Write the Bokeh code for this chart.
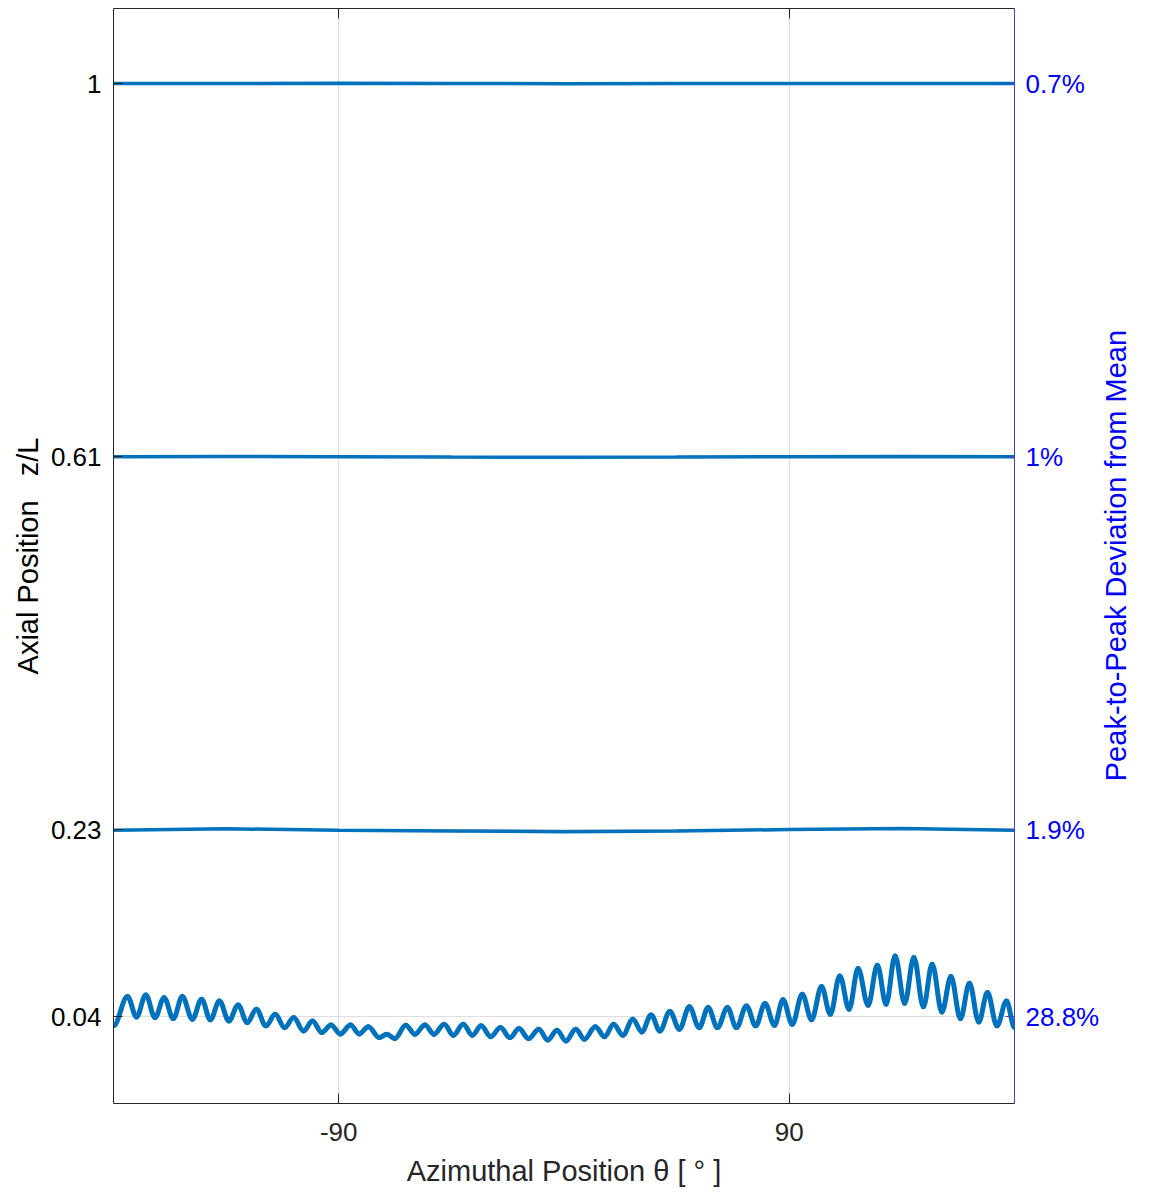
import math
from bokeh.plotting import figure
from bokeh.models import LinearAxis, FixedTicker, Range1d, CustomLabelingPolicy
from bokeh.embed import file_html
from bokeh.resources import INLINE

# ---------------- data ----------------
z_ticks = [0.0385, 0.2308, 0.6154, 1.0]
z_labels = ["0.04", "0.23", "0.61", "1"]
dev_labels = ["28.8%", "1.9%", "1%", "0.7%"]

x_ticks = [-90, 90]
x_labels = ["-90", "90"]

theta_flat = [-180, -135, -90, -45, 0, 45, 90, 135, 180]
z_trace_100 = [1.0000, 1.0001, 1.0002, 1.0000, 0.9998, 0.9999, 1.0001, 1.0001, 1.0000]
z_trace_061 = [0.6155, 0.6157, 0.6155, 0.6150, 0.6148, 0.6150, 0.6155, 0.6157, 0.6155]
z_trace_023 = [0.2305, 0.2320, 0.2306, 0.2298, 0.2290, 0.2298, 0.2312, 0.2324, 0.2305]

theta_bottom = [
    -180.0, -174.4, -170.8, -167.1, -163.4, -159.8, -156.1, -152.5, -148.5, -144.8,
    -141.3, -137.7, -133.9, -130.2, -126.6, -122.9, -119.1, -115.4, -111.6, -108.0,
    -104.1, -100.5, -96.8, -93.1, -89.4, -85.3, -81.8, -78.2, -73.8, -70.8,
    -67.6, -63.2, -59.6, -55.6, -51.9, -47.9, -44.2, -40.3, -36.6, -33.1,
    -29.3, -25.4, -21.6, -18.0, -14.1, -10.1, -6.5, -2.8, 0.8, 4.7,
    8.2, 12.5, 16.2, 19.8, 23.5, 27.5, 31.1, 34.8, 38.3, 42.3,
    46.1, 50.1, 54.0, 57.6, 61.3, 65.3, 68.9, 72.9, 76.6, 80.3,
    84.1, 87.5, 91.2, 95.2, 98.9, 102.9, 106.4, 110.2, 113.9, 117.5,
    121.5, 125.2, 128.7, 132.3, 136.1, 139.8, 143.6, 147.1, 151.0, 154.6,
    158.4, 162.0, 165.7, 169.2, 173.0, 176.8, 180.0,
]
z_bottom = [
    0.0289, 0.0591, 0.0381, 0.0608, 0.0374, 0.0580, 0.0364, 0.0591, 0.0358, 0.0564,
    0.0351, 0.0546, 0.0340, 0.0505, 0.0323, 0.0461, 0.0289, 0.0409, 0.0271, 0.0374,
    0.0237, 0.0340, 0.0220, 0.0299, 0.0206, 0.0299, 0.0206, 0.0281, 0.0168, 0.0203,
    0.0158, 0.0296, 0.0203, 0.0299, 0.0203, 0.0306, 0.0193, 0.0306, 0.0193, 0.0289,
    0.0178, 0.0271, 0.0168, 0.0261, 0.0158, 0.0255, 0.0144, 0.0244, 0.0134, 0.0255,
    0.0152, 0.0281, 0.0178, 0.0306, 0.0193, 0.0358, 0.0227, 0.0402, 0.0237, 0.0436,
    0.0255, 0.0485, 0.0271, 0.0477, 0.0271, 0.0477, 0.0271, 0.0495, 0.0289, 0.0519,
    0.0296, 0.0557, 0.0306, 0.0615, 0.0351, 0.0694, 0.0409, 0.0804, 0.0461, 0.0879,
    0.0502, 0.0914, 0.0512, 0.1010, 0.0523, 0.0993, 0.0485, 0.0925, 0.0433, 0.0797,
    0.0364, 0.0729, 0.0330, 0.0632, 0.0289, 0.0546, 0.0271,
]

# ---------------- styling ----------------
LINE_COLOR = "#0072BD"
AXIS_COLOR = "#262626"
RIGHT_COLOR = "#0000FF"
RIGHT_LINE = "#4040cc"
FONT = "Liberation Sans"
TICK_SIZE = "26px"
LABEL_SIZE = "29px"

p = figure(
    width=1151, height=1192,
    x_range=Range1d(-180, 180), y_range=Range1d(-0.0511, 1.0773),
    output_backend="svg", toolbar_location=None,
    min_border_left=113, min_border_right=137, min_border_top=8, min_border_bottom=89,
)
p.outline_line_color = None
p.background_fill_color = "white"
p.border_fill_color = "white"

p.xgrid.ticker = FixedTicker(ticks=x_ticks)
p.ygrid.ticker = FixedTicker(ticks=z_ticks)
for g in (p.xgrid, p.ygrid):
    g.grid_line_color = "#dedede"
    g.grid_line_width = 1

xa = p.xaxis[0]
xa.ticker = FixedTicker(ticks=x_ticks)
xa.major_label_overrides = {t: s for t, s in zip(x_ticks, x_labels)}
xa.axis_label = "Azimuthal Position θ [ ° ]"
xa.axis_label_text_font = FONT
xa.axis_label_text_font_size = LABEL_SIZE
xa.axis_label_text_font_style = "normal"
xa.axis_label_text_color = AXIS_COLOR
xa.axis_label_standoff = 11
xa.major_label_text_font = FONT
xa.major_label_text_font_size = TICK_SIZE
xa.major_label_text_color = AXIS_COLOR
xa.major_label_standoff = 19
xa.major_tick_in = 10
xa.major_tick_out = 0
xa.minor_tick_line_color = None
xa.axis_line_color = AXIS_COLOR
xa.major_tick_line_color = AXIS_COLOR

ya = p.yaxis[0]
ya.ticker = FixedTicker(ticks=z_ticks)
ya.major_label_overrides = {t: s for t, s in zip(z_ticks, z_labels)}
ya.axis_label = "Axial Position\u00a0\u00a0 z/L"
ya.axis_label_text_font = FONT
ya.axis_label_text_font_size = LABEL_SIZE
ya.axis_label_text_font_style = "normal"
ya.axis_label_text_color = "#000000"
ya.axis_label_standoff = 4
ya.major_label_text_font = FONT
ya.major_label_text_font_size = TICK_SIZE
ya.major_label_text_color = "#000000"
ya.major_label_standoff = 12
ya.major_tick_in = 9
ya.major_tick_out = 0
ya.minor_tick_line_color = None
ya.axis_line_color = AXIS_COLOR
ya.major_tick_line_color = AXIS_COLOR

top = LinearAxis(ticker=FixedTicker(ticks=x_ticks))
top.major_label_policy = CustomLabelingPolicy(code="return new Set()")
top.major_label_text_font_size = "0px"
top.major_label_standoff = 0
top.major_tick_in = 10
top.major_tick_out = 0
top.minor_tick_line_color = None
top.axis_line_color = AXIS_COLOR
top.major_tick_line_color = AXIS_COLOR
p.add_layout(top, "above")

# right axis: title reads bottom-to-top, anchored at the bottom of the frame and
# lifted to mid-height with non-breaking spaces
right = LinearAxis(ticker=FixedTicker(ticks=z_ticks))
right.major_label_overrides = {t: s for t, s in zip(z_ticks, dev_labels)}
right.axis_label = "\u00a0" * 40 + "Peak-to-Peak Deviation from Mean"
right.axis_label_orientation = math.pi / 2
right.axis_label_align = "start"
right.axis_label_text_font = FONT
right.axis_label_text_font_size = LABEL_SIZE
right.axis_label_text_font_style = "normal"
right.axis_label_text_color = RIGHT_COLOR
right.axis_label_standoff = 14
right.major_label_text_font = FONT
right.major_label_text_font_size = TICK_SIZE
right.major_label_text_color = RIGHT_COLOR
right.major_label_standoff = 11
right.major_tick_in = 9
right.major_tick_out = 0
right.minor_tick_line_color = None
right.axis_line_color = RIGHT_LINE
right.major_tick_line_color = RIGHT_LINE
p.add_layout(right, "right")

for zs in (z_trace_100, z_trace_061, z_trace_023):
    p.line(theta_flat, zs, line_color=LINE_COLOR, line_width=3.5)

K = 1 - 2 / math.pi
x0 = theta_bottom[:-1]
x1 = theta_bottom[1:]
y0 = z_bottom[:-1]
y1 = z_bottom[1:]
cx0 = [a + K * (b - a) for a, b in zip(x0, x1)]
cx1 = [b - K * (b - a) for a, b in zip(x0, x1)]
p.bezier(x0=x0, y0=y0, x1=x1, y1=y1, cx0=cx0, cy0=y0, cx1=cx1, cy1=y1,
         line_color=LINE_COLOR, line_width=5, line_cap="round")

open("out.html", "w").write(file_html(p, INLINE))
